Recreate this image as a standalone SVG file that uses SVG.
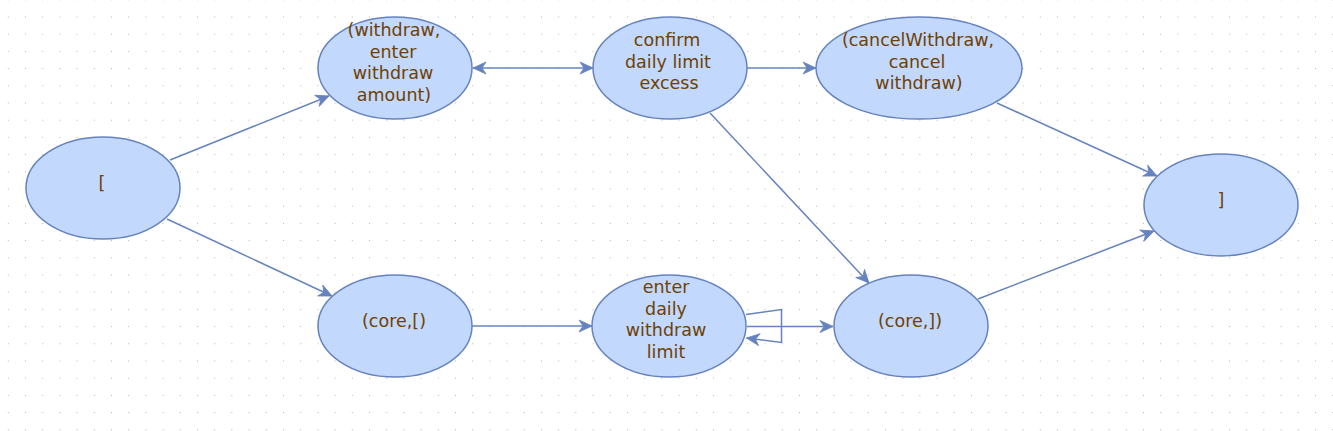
<svg xmlns="http://www.w3.org/2000/svg" width="1333" height="431" viewBox="0 0 1333 431">
  <style>
    .node ellipse { fill: #c3d8fd; stroke: #6683bf; stroke-width: 1.5; }
    .node text { font-family: "DejaVu Sans", sans-serif; font-size: 17.5px; fill: #6e4100; text-anchor: middle; }
    .edge { fill: none; stroke: #6683bf; stroke-width: 1.5; marker-end: url(#arrow); }
    .bi { marker-start: url(#arrow); }
  </style>
  <defs>
    <pattern id="grid" patternUnits="userSpaceOnUse" x="7.8" y="16.5" width="17.2" height="17.2">
      <rect x="0" y="0" width="1" height="1" fill="#b4b4b4"/>
    </pattern>
    <marker id="arrow" markerUnits="userSpaceOnUse" markerWidth="16" markerHeight="14" viewBox="0 -7 14 14" refX="13" refY="0" orient="auto-start-reverse">
      <path d="M0,-6 L13,0 L0,6 L4,0 z" fill="#6683bf" stroke="#6683bf" stroke-width="0.8" stroke-linejoin="miter"/>
    </marker>
  </defs>
  <rect width="1333" height="431" fill="#ffffff"/>
  <rect width="1333" height="431" fill="url(#grid)"/>

  <g id="connectors">
    <path class="edge" d="M170,160 L329,96"/>
    <path class="edge" d="M167,219 L332,296"/>
    <path class="edge bi" d="M473,68 L593,68"/>
    <path class="edge" d="M747,68 L816,68"/>
    <path class="edge" d="M997,103 L1157,176"/>
    <path class="edge" d="M710,113 L869,283"/>
    <path class="edge" d="M978,299 L1154,231"/>
    <path class="edge" d="M472,326 L592,326"/>
    <path class="edge" d="M747,326.5 L833,326.5"/>
    <path class="edge" d="M746,314.5 L781.5,309.5 L781.5,342.5 L746.5,338"/>
  </g>

  <g id="node-start" class="node">
    <ellipse cx="103" cy="188" rx="77" ry="51"/>
    <text x="102" y="189">[</text>
  </g>
  <g id="node-withdraw" class="node">
    <ellipse cx="395" cy="68" rx="77" ry="51"/>
    <text x="394" y="36">(withdraw,</text>
    <text x="393" y="57.5">enter</text>
    <text x="393" y="79">withdraw</text>
    <text x="394" y="100.5">amount)</text>
  </g>
  <g id="node-confirm" class="node">
    <ellipse cx="670" cy="68" rx="77" ry="51"/>
    <text x="667" y="46">confirm</text>
    <text x="668" y="67.5">daily limit</text>
    <text x="669" y="89">excess</text>
  </g>
  <g id="node-cancel" class="node">
    <ellipse cx="919" cy="68" rx="103" ry="51"/>
    <text x="918" y="46">(cancelWithdraw,</text>
    <text x="917" y="67.5">cancel</text>
    <text x="919" y="89">withdraw)</text>
  </g>
  <g id="node-end" class="node">
    <ellipse cx="1221" cy="205" rx="77" ry="51"/>
    <text x="1221" y="206">]</text>
  </g>
  <g id="node-core-open" class="node">
    <ellipse cx="395" cy="326" rx="77" ry="51"/>
    <text x="394" y="327">(core,[)</text>
  </g>
  <g id="node-daily-limit" class="node">
    <ellipse cx="669" cy="326" rx="77" ry="51"/>
    <text x="666" y="293">enter</text>
    <text x="666" y="314.5">daily</text>
    <text x="666" y="336">withdraw</text>
    <text x="666" y="357.5">limit</text>
  </g>
  <g id="node-core-close" class="node">
    <ellipse cx="911" cy="326" rx="77" ry="51"/>
    <text x="910" y="327">(core,])</text>
  </g>
</svg>
